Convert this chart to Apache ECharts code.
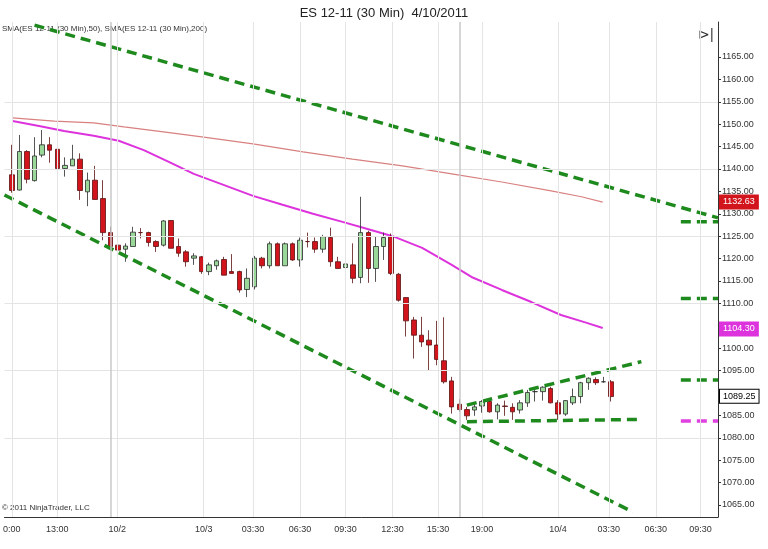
<!DOCTYPE html>
<html><head><meta charset="utf-8">
<script src="https://cdn.jsdelivr.net/npm/echarts@6/dist/echarts.min.js"></script>
<style>html,body{margin:0;padding:0;background:#fff}#c{width:768px;height:549px}</style>
</head><body><div id="c"></div>
<script>
// OHLC per 30-min bar (index 0..79)
const opens  = [1138.7,1135.3,1143.9,1137.4,1143.1,1145.4,1144.4,1140.1,1140.7,1142.2,1134.9,1137.5,1133.4,1125.8,1123.0,1122.1,1122.7,1125.8,1125.8,1123.8,1123.0,1128.5,1122.7,1121.5,1120.1,1120.4,1117.1,1118.4,1119.8,1117.1,1117.1,1113.1,1113.7,1120.1,1118.4,1123.3,1118.4,1123.3,1119.7,1123.8,1123.8,1122.1,1124.7,1119.3,1118.0,1118.6,1115.8,1125.8,1117.8,1122.7,1124.9,1116.5,1111.3,1106.3,1102.9,1101.8,1100.7,1097.2,1092.7,1087.5,1086.3,1086.2,1087.1,1088.1,1085.8,1087.1,1086.8,1086.2,1087.8,1090.3,1090.3,1091.0,1087.8,1085.3,1087.8,1089.2,1092.3,1093.0,1092.5,1092.5];
const closes = [1135.2,1143.9,1137.7,1142.9,1145.4,1144.2,1140.1,1140.8,1142.2,1135.2,1137.5,1133.2,1125.8,1122.7,1121.9,1122.8,1125.9,1125.8,1123.6,1122.7,1128.4,1122.3,1121.2,1119.3,1120.6,1117.1,1118.6,1119.5,1116.3,1116.7,1113.0,1115.6,1120.1,1118.4,1123.3,1118.4,1123.3,1119.7,1124.1,1123.8,1122.1,1124.9,1119.3,1117.8,1118.8,1115.6,1125.8,1117.8,1122.7,1124.7,1116.7,1110.7,1106.1,1102.9,1101.4,1100.7,1097.5,1092.5,1086.9,1086.3,1084.9,1086.9,1088.1,1085.8,1087.3,1087.0,1085.8,1087.8,1090.1,1090.3,1091.3,1087.8,1085.3,1088.3,1089.2,1092.3,1093.3,1092.3,1092.5,1089.2];
const lows   = [1134.7,1135.2,1136.8,1137.2,1142.6,1141.4,1140.1,1138.3,1140.7,1133.1,1131.7,1133.2,1124.1,1121.9,1119.5,1119.3,1122.7,1124.5,1122.7,1121.5,1122.7,1122.3,1120.4,1118.2,1118.6,1116.6,1116.3,1117.5,1116.3,1116.7,1112.4,1111.4,1113.1,1117.8,1117.8,1118.4,1118.4,1119.5,1118.2,1122.5,1121.3,1121.3,1118.2,1117.8,1117.5,1114.5,1114.5,1114.6,1114.8,1119.7,1116.3,1110.4,1102.6,1097.7,1100.3,1095.1,1096.2,1092.1,1085.4,1085.8,1084.0,1084.9,1085.6,1085.6,1084.1,1084.9,1084.0,1085.4,1086.9,1088.1,1088.3,1087.7,1084.0,1084.9,1087.3,1087.7,1090.7,1091.8,1092.3,1088.1];
const highs  = [1145.4,1147.6,1144.2,1147.1,1148.7,1147.1,1144.6,1142.6,1145.4,1143.5,1139.2,1140.7,1137.5,1127.1,1123.4,1123.4,1127.1,1126.8,1126.0,1124.1,1128.6,1128.6,1124.5,1121.9,1121.2,1120.6,1119.1,1119.8,1120.4,1121.0,1117.3,1117.8,1120.6,1120.4,1123.8,1123.6,1123.6,1123.6,1124.7,1125.8,1124.7,1125.3,1126.9,1120.4,1121.9,1123.4,1133.8,1126.2,1124.9,1125.8,1125.6,1116.8,1111.3,1107.0,1107.0,1104.0,1106.1,1106.9,1093.6,1088.6,1086.9,1087.7,1088.4,1088.3,1087.7,1088.3,1087.7,1088.4,1090.7,1091.0,1091.5,1091.4,1088.4,1088.4,1091.0,1092.5,1093.5,1093.5,1093.6,1092.9];
// moving averages sampled as [bar index, price]
const sma50  = [[0.1,1150.7],[3.6,1149.6],[6.9,1148.5],[10.8,1147.4],[14.1,1146.3],[17.4,1144.2],[20.7,1141.6],[24,1138.9],[27.2,1136.9],[31.8,1134.0],[35.7,1132.0],[39.7,1130.0],[43.6,1128.2],[46.9,1126.6],[50.2,1125.0],[54.1,1122.4],[58.0,1118.6],[60.6,1115.9],[64.6,1113.0],[68.5,1110.3],[72.4,1107.4],[75.7,1105.7],[77.9,1104.5]];
const sma200 = [[0.1,1151.4],[5.6,1150.7],[10.8,1150.3],[14.8,1149.4],[20,1148.3],[25.3,1147.1],[31.8,1145.6],[38.4,1143.8],[44.9,1142.2],[51.5,1140.7],[58.0,1138.9],[64.6,1137.1],[71.1,1135.1],[75.1,1133.8],[77.9,1132.6]];
// drawn trend lines [[x1,y1],[x2,y2]]
const trendLines = [
  [[3,1172.1],[93.1,1129.1]],
  [[-0.96,1134.2],[81.9,1063.4]],
  [[60,1083.6],[83,1084.1]],
  [[60,1087.3],[83,1097.0]]
];
const levelLines = [1128.2,1111.1,1092.9];
const magentaLevel = 1083.75;
const xTickPos = [0,6,13.9,25.3,31.8,38,44,50.2,56.2,62,72,78.7,84.9,90.8];
const xTickLabels = ['0:00','13:00','10/2','10/3','03:30','06:30','09:30','12:30','15:30','19:00','10/4','03:30','06:30','09:30'];
const yTicks = []; for (let v = 1065; v <= 1165; v += 5) yTicks.push(v);
const yGrid = [1080,1095,1110,1125,1140,1155];
const tagValues = [1132.63,1104.30,1089.25];
const tagColors = [['#d2141c','#fff','#d2141c'],['#dd33dd','#fff','#dd33dd'],['#fff','#000','#000']];

const candles = opens.map((o,i)=>[i,o,closes[i],lows[i],highs[i]]);
const series = [];
series.push({type:'candlestick',data:candles,encode:{x:0,y:[1,2,3,4]},barWidth:5,
  itemStyle:{color:'#9ad89a',color0:'#d2141c',borderColor:'#2a2a2a',borderColor0:'#5a1010',borderWidth:0.8},
  markLine:{silent:true,symbol:'none',animation:false,
    data:[...yGrid.map(v=>({yAxis:v,lineStyle:{color:'#e4e4e4',width:1,type:'solid'},label:{show:false}})),
          ...xTickPos.map(v=>({xAxis:v,lineStyle:{color:'#e4e4e4',width:1,type:'solid'},label:{show:false}})),
          {xAxis:13.1,lineStyle:{color:'#c8c8c8',width:1.5,type:'solid'},label:{show:false}},
          {xAxis:59.1,lineStyle:{color:'#c8c8c8',width:1.5,type:'solid'},label:{show:false}}]},
  z:3});
series.push({type:'line',data:sma50,symbol:'none',lineStyle:{color:'#dd33dd',width:2},z:2});
series.push({type:'line',data:sma200,symbol:'none',lineStyle:{color:'#d98080',width:1.2},z:2});
trendLines.forEach(t=>series.push({type:'line',data:t,symbol:'none',lineStyle:{color:'#1e8a1e',width:3.5,type:[10,6]},z:4}));
levelLines.forEach(v=>series.push({type:'line',data:[[88.2,v],[93.1,v]],symbol:'none',lineStyle:{color:'#1e8a1e',width:3.5,type:[10,6]},z:4}));
series.push({type:'line',data:[[88.2,magentaLevel],[93.1,magentaLevel]],symbol:'none',lineStyle:{color:'#e040e0',width:3.5,type:[10,6]},z:4});
series.push({type:'scatter',clip:false,symbolSize:0,silent:true,itemStyle:{color:'transparent'},z:10,labelLayout:{hideOverlap:false},
  data:tagValues.map((v,k)=>({value:[93.1,v],label:{show:true,position:'right',distance:2,formatter:v.toFixed(2),
    backgroundColor:tagColors[k][0],color:tagColors[k][1],borderColor:tagColors[k][2],borderWidth:1,padding:[2,3],fontSize:9,opacity:1}}))});

const chart = echarts.init(document.getElementById('c'));
chart.setOption({
  animation:false,
  backgroundColor:'#fff',
  title:{text:'ES 12-11 (30 Min)  4/10/2011',left:'center',top:2,textStyle:{fontSize:13,fontWeight:'normal',color:'#222',fontFamily:'Liberation Sans'}},
  grid:{left:0,right:50,top:22,bottom:32},
  xAxis:{type:'value',min:-0.96,max:93.1,splitLine:{show:false},axisLine:{onZero:false,lineStyle:{color:'#333'}},
    axisTick:{show:false},
    axisLabel:{customValues:xTickPos,fontSize:9,color:'#333',formatter:v=>{const k=xTickPos.findIndex(p=>Math.abs(p-v)<1e-6);return k>=0?xTickLabels[k]:'';}}},
  yAxis:{type:'value',position:'right',min:1062.32,max:1172.81,splitLine:{show:false},
    axisLine:{show:true,onZero:false,lineStyle:{color:'#333'}},
    axisTick:{show:true,customValues:yTicks,length:3,lineStyle:{color:'#333'}},
    axisLabel:{customValues:yTicks,fontSize:9,color:'#333',margin:4,formatter:v=>v.toFixed(2)}},
  graphic:[
    {type:'text',left:2,top:25,style:{text:'SMA(ES 12-11 (30 Min),50), SMA(ES 12-11 (30 Min),200)',fontSize:8,fill:'#333'}},
    {type:'text',left:2,top:504,style:{text:'© 2011 NinjaTrader, LLC',fontSize:8,fill:'#333'}},
    {type:'text',left:698,top:28,style:{text:'⊳|',fontSize:14,fill:'#333'}}
  ],
  series
});
</script></body></html>
